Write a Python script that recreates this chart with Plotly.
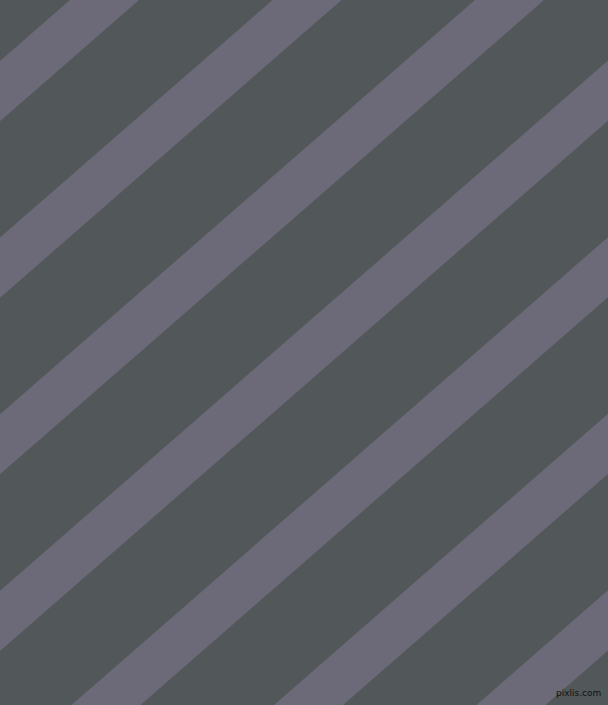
import plotly.graph_objects as go

# Pattern data
stripe_index = [-1, 0, 1, 2, 3, 4, 5, 6, 7]
first_intercept = 70.0      # x where the first stripe's upper edge meets the top edge
period = 202.5              # horizontal spacing between stripes
stripe_width = 69.0         # horizontal width of each stripe
slope = 0.872               # rise over run of stripes (about 41 degrees)

W, H = 608, 705
bg_color = "#525859"
stripe_color = "#6c6a78"

fig = go.Figure()
for k in stripe_index:
    c = first_intercept + period * k
    dx = H / slope
    xs = [c, c + stripe_width, c + stripe_width - dx, c - dx, c]
    ys = [0, 0, H, H, 0]
    fig.add_trace(go.Scatter(
        x=xs, y=ys, mode="lines", fill="toself",
        fillcolor=stripe_color, line=dict(width=0, color=stripe_color),
        hoverinfo="skip", showlegend=False,
    ))

fig.add_annotation(
    x=603, y=700, xref="x", yref="y", xanchor="right", yanchor="bottom",
    text="pixlis.com", showarrow=False,
    font=dict(family="DejaVu Sans", size=9, color="#111111"),
)

fig.update_layout(
    width=W, height=H,
    margin=dict(l=0, r=0, t=0, b=0),
    paper_bgcolor=bg_color, plot_bgcolor=bg_color,
    xaxis=dict(range=[0, W], visible=False, fixedrange=True),
    yaxis=dict(range=[H, 0], visible=False, fixedrange=True),
)
fig.write_html("out.html", config={"displayModeBar": False})

with open("out.html", "r", encoding="utf-8") as f:
    html = f.read()
html = html.replace("<head>", "<head><style>html,body{margin:0;padding:0;overflow:hidden;background:%s;}</style>" % bg_color, 1)
with open("out.html", "w", encoding="utf-8") as f:
    f.write(html)
